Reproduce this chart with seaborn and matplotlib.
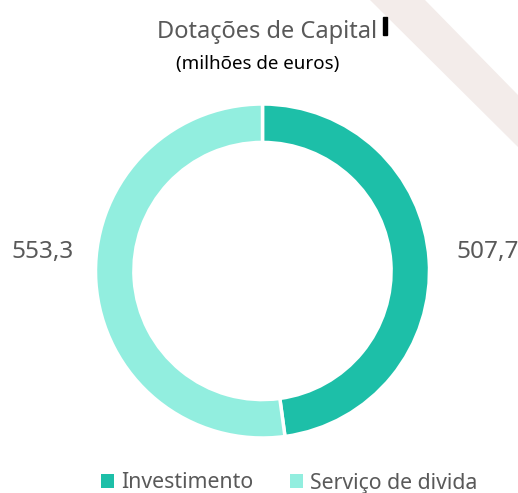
import matplotlib
matplotlib.use("Agg")
import matplotlib.pyplot as plt
from matplotlib.patches import Patch, Polygon
import seaborn as sns

# data
labels = ["Investimento", "Serviço de divida"]
values = [507.7, 553.3]
value_text = ["507,7", "553,3"]
colors = ["#1DBFA8", "#92EEDF"]

sns.set_style("white")
plt.rcParams["font.family"] = ["Noto Sans", "DejaVu Sans"]

W, H = 518, 493
fig = plt.figure(figsize=(W / 100, H / 100), dpi=100)
ax = fig.add_axes([0, 0, 1, 1])
ax.set_axis_off()

# light diagonal band at top right
band = Polygon([(370 / W, 1), (425 / W, 1), (1, 1 - 95 / H), (1, 1 - 147 / H)],
               closed=True, transform=fig.transFigure, facecolor="#F3ECEA",
               edgecolor="none", zorder=0)
fig.patches.append(band)

ax.pie(values, colors=colors, startangle=90, counterclock=False, radius=1,
       wedgeprops=dict(width=0.23, edgecolor="white", linewidth=2.5))

r = 167.0
cx, cy = 262.5, 271
ax.set_xlim(-cx / r, (W - cx) / r)
ax.set_ylim(-(H - cy) / r, cy / r)
ax.set_aspect("equal")

gray = "#595959"
fig.text(267 / W, 1 - 32 / H, "Dotações de Capital", ha="center", va="center",
         fontsize=17, color=gray)
fig.add_artist(plt.Rectangle((383 / W, 1 - 35 / H), 4 / W, 18 / H,
                             transform=fig.transFigure, color="black"))
fig.text(258 / W, 1 - 64 / H, "(milhões de euros)", ha="center", va="center",
         fontsize=13.5, color="black")

fig.text(488 / W, 1 - 252 / H, value_text[0], ha="center", va="center",
         fontsize=17.5, color=gray)
fig.text(43 / W, 1 - 252 / H, value_text[1], ha="center", va="center",
         fontsize=17.5, color=gray)

handles = [Patch(facecolor=c, edgecolor="none") for c in colors]
ax.legend(handles, labels, loc="center", bbox_to_anchor=(289 / W, 1 - 483 / H),
          bbox_transform=fig.transFigure, ncol=2, frameon=False, fontsize=15.3,
          handlelength=0.62, handleheight=0.62, handletextpad=0.33,
          columnspacing=1.7, labelcolor=gray)

fig.savefig("out.png", dpi=100)
